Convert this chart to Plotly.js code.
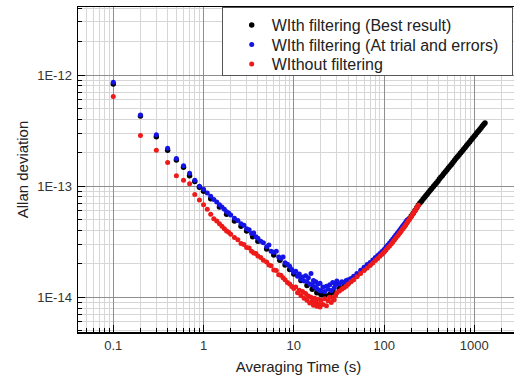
<!DOCTYPE html>
<html><head><meta charset="utf-8">
<script src="https://cdn.plot.ly/plotly-3.0.1.min.js"></script>
<style>html,body{margin:0;padding:0;overflow:hidden;background:#fff;width:514px;height:379px}#chart{width:540px;height:379px}</style>
</head><body><div id="chart"></div><script>
// values are in units of 1e-14
var UNIT = 1e-14;

var tauBlack = [0.1,0.2,0.3,0.4,0.5,0.6,0.7,0.8,0.9,1.0,1.2,1.5,1.8,2.2,2.6,3.0,3.5,4.0,5.0,6.0,7.0,8.0,9.0,10,12,14,16,18,20,22,25,28,32,36,40,45,50,60,70,80,90,100,110,120,130,140,150,160,170,180,190,200,210,220,230,
  240,250,260,270,280,290,300,312,325,338,352,366,380,395,410,426,443,460,478,497,516,536,557,579,602,626,651,677,704,732,761,791,822,854,887,921,956,992,1030,1070,1110,1150,1190,1230,1270,1313];
var adevBlack = [83,42.8,27.8,21,17.2,14.8,12.4,11.0,9.8,9.0,7.7,6.5,5.6,4.85,4.35,3.95,3.5,3.2,2.72,2.4,2.15,1.95,1.78,1.62,1.42,1.28,1.18,1.1,1.06,1.04,1.06,1.1,1.2,1.26,1.34,1.44,1.56,1.78,1.97,2.19,2.4,2.6,2.85,3.1,3.36,3.63,3.9,4.2,4.48,4.78,5.08,5.4,5.72,6.05,6.4,
  6.77,7.05,7.33,7.61,7.9,8.18,8.46,8.8,9.17,9.53,9.93,10.3,10.7,11.1,11.6,12.0,12.5,13.0,13.5,14.0,14.6,15.1,15.7,16.3,17.0,17.7,18.4,19.1,19.9,20.6,21.5,22.3,23.2,24.1,25.0,26.0,27.0,28.0,29.0,30.2,31.3,32.4,33.6,34.7,35.8,37.0];

var tauBlue = [0.1,0.2,0.3,0.4,0.5,0.6,0.7,0.8,0.9,1.0,1.1,1.2,1.3,1.4,1.5,1.6,1.7,1.8,1.9,2.0,2.2,2.4,2.6,2.8,3.0,3.2,3.4,3.6,3.8,4.0,4.3,4.6,5.0,5.3,5.6,6.0,6.4,6.8,7.2,7.6,8.0,8.5,9.0,9.5,10,10.5,11,11.5,12,12.5,13,13.5,14,14.5,15,15.5,16,16.5,17,17.5,18,18.5,19,19.5,20,21,22,23,24,25,26,27,28,29,30,32,34,36,38,40,43,46,50,55,60,65,70,75,80,85,90,95,100,105,110,115,120,125,130,135,140,145,150,155,160,165,170,175,180];
var adevBlue = [86,43.6,29,21.9,17.7,15.3,13.1,11.3,10.0,9.4,8.7,8.1,7.6,7.2,6.8,6.5,6.2,5.9,5.75,5.5,5.15,4.9,4.6,4.45,4.15,4.05,3.75,3.8,3.5,3.4,3.2,3.1,2.85,2.95,2.6,2.55,2.6,2.3,2.25,2.3,2.05,1.98,1.9,1.78,1.68,1.72,1.55,1.62,1.46,1.52,1.4,1.56,1.38,1.5,1.32,1.64,1.3,1.42,1.24,1.38,1.2,1.32,1.16,1.34,1.14,1.24,1.13,1.26,1.18,1.3,1.15,1.36,1.22,1.3,1.4,1.32,1.38,1.36,1.42,1.44,1.48,1.55,1.64,1.75,1.86,1.97,2.06,2.17,2.28,2.38,2.48,2.59,2.7,2.83,2.96,3.08,3.21,3.35,3.49,3.63,3.77,3.91,4.06,4.2,4.35,4.5,4.65,4.81,4.97];

var tauRed = [0.1,0.2,0.3,0.4,0.5,0.6,0.7,0.8,0.9,1.0,1.1,1.2,1.3,1.4,1.5,1.6,1.7,1.8,1.9,2.0,2.2,2.4,2.6,2.8,3.0,3.2,3.4,3.6,3.8,4.0,4.3,4.6,5.0,5.3,5.6,6.0,6.4,6.8,7.2,7.6,8.0,8.5,9.0,9.5,10,10.5,11,11.5,12,12.5,13,13.5,14,14.5,15,15.5,16,16.5,17,17.5,18,18.5,19,19.5,20,21,22,23,24,25,26,27,28,29,30,32,34,36,38,40,43,46,50,55,60,65,70,75,80,85,90,95,100,105,110,115,120,125,130,135,140,145,150,155,160,165,170,175,180,185,190,195,200,205,210,215,220,225,230,235,240];
var adevRed = [64,28.6,21,16.3,12.4,11.3,10.5,8.4,7.5,6.8,6.2,5.6,5.1,4.85,4.6,4.35,4.15,3.95,3.85,3.7,3.45,3.3,3.05,2.98,2.8,2.78,2.6,2.5,2.48,2.35,2.28,2.15,2.08,1.95,1.92,1.76,1.74,1.6,1.58,1.5,1.44,1.36,1.32,1.25,1.2,1.24,1.1,1.16,1.04,1.13,0.98,1.08,0.94,1.03,0.89,1.0,0.92,0.85,0.98,0.9,0.83,0.96,0.87,0.82,0.94,0.86,0.97,0.84,0.93,1.0,0.9,0.99,0.95,1.04,1.1,1.14,1.18,1.22,1.26,1.31,1.38,1.44,1.53,1.64,1.74,1.84,1.93,2.04,2.14,2.24,2.34,2.44,2.55,2.67,2.79,2.9,3.02,3.15,3.28,3.41,3.55,3.68,3.82,3.95,4.09,4.23,4.37,4.53,4.69,4.85,5.01,5.17,5.34,5.51,5.68,5.85,6.02,6.2,6.38,6.56,6.74];

var seriesNames = ['WIth filtering (Best result)','WIth filtering (At trial and errors)','WIthout filtering'];
var seriesColors = ['#000000','#1414e6','#ee1a1a'];
var seriesSizes = [5.5, 5, 5];

var xTickVals = [0.1,1,10,100,1000];
var xTickText = ['0.1','1','10','100','1000'];
var yTickVals = [1e-14,1e-13,1e-12];
var yTickText = ['1E-14','1E-13','1E-12'];

function minorVals(d0, d1){
  var out = [];
  for (var d = d0; d <= d1; d++) for (var k = 2; k <= 9; k++) out.push(k * Math.pow(10, d));
  return out;
}
function scale(a){ return a.map(function(v){ return v * UNIT; }); }

var FONT = 'Liberation Sans, Arial, sans-serif';
var traces = [
  {x: tauBlack, y: scale(adevBlack), name: seriesNames[0]},
  {x: tauBlue, y: scale(adevBlue), name: seriesNames[1]},
  {x: tauRed, y: scale(adevRed), name: seriesNames[2]}
].map(function(t, i){
  t.type = 'scatter'; t.mode = 'markers';
  t.marker = {color: seriesColors[i], size: seriesSizes[i]};
  return t;
});

var axisCommon = {
  type: 'log', showline: true, linecolor: '#000', linewidth: 1.5, mirror: true,
  ticks: 'inside', ticklen: 7, tickwidth: 1, tickcolor: '#000',
  showgrid: true, gridcolor: '#8e8e8e', gridwidth: 1, zeroline: false,
  tickfont: {family: FONT, size: 13, color: '#333'},
  tickmode: 'array'
};

var layout = {
  width: 540, height: 379,
  margin: {l: 78, r: 21, t: 7, b: 47},
  paper_bgcolor: '#fff', plot_bgcolor: '#fff',
  showlegend: true,
  font: {family: FONT, color: '#222'},
  xaxis: Object.assign({}, axisCommon, {
    range: [-1.391, 3.495],
    tickvals: xTickVals, ticktext: xTickText,
    ticklabelstandoff: 1,
    minor: {tickmode: 'array', tickvals: minorVals(-2, 3), ticks: 'inside', ticklen: 4, tickcolor: '#000', showgrid: true, gridcolor: '#d6d6d6', gridwidth: 1},
    title: {text: 'Averaging Time (s)', font: {family: FONT, size: 15, color: '#222'}, standoff: 9}
  }),
  yaxis: Object.assign({}, axisCommon, {
    range: [-14.312, -11.388],
    tickvals: yTickVals, ticktext: yTickText,
    ticklabelstandoff: 2,
    minor: {tickmode: 'array', tickvals: minorVals(-16, -12), ticks: 'inside', ticklen: 4, tickcolor: '#000', showgrid: true, gridcolor: '#d6d6d6', gridwidth: 1},
    title: {text: 'Allan deviation', font: {family: FONT, size: 15, color: '#222'}, standoff: 5}
  }),
  legend: {
    x: 0.9857, xanchor: 'right', y: 1, yanchor: 'top',
    bgcolor: '#fff', bordercolor: '#555', borderwidth: 1,
    font: {family: FONT, size: 16, color: '#222'}
  }
};

// legend fine-tuning: row pitch, box height, entry shift, extra box width on the left
var LEG_STEP = 19.5, LEG_H = 67.5, LEG_SHIFT = -8, LEG_EXTRA_LEFT = 17;

Plotly.newPlot('chart', traces, layout, {staticPlot: true, displayModeBar: false}).then(function(gd){
  var leg = gd.querySelector('.legend');
  if (!leg) return;
  var items = leg.querySelectorAll('.traces');
  var y0 = null;
  items.forEach(function(el, i){
    var m = /translate\(\s*([-\d.eE]+)[ ,]+([-\d.eE]+)\s*\)/.exec(el.getAttribute('transform') || '');
    if (!m) return;
    var x = parseFloat(m[1]), y = parseFloat(m[2]);
    if (y0 === null) y0 = y;
    el.setAttribute('transform', 'translate(' + (x + LEG_SHIFT) + ',' + (y0 + i * LEG_STEP) + ')');
  });
  var bg = leg.querySelector('rect.bg');
  if (bg) {
    bg.setAttribute('height', LEG_H);
    var bx = parseFloat(bg.getAttribute('x')) || 0;
    var bwid = parseFloat(bg.getAttribute('width')) || 0;
    bg.setAttribute('x', bx - LEG_EXTRA_LEFT);
    bg.setAttribute('width', bwid + LEG_EXTRA_LEFT);
  }
});
</script></body></html>
